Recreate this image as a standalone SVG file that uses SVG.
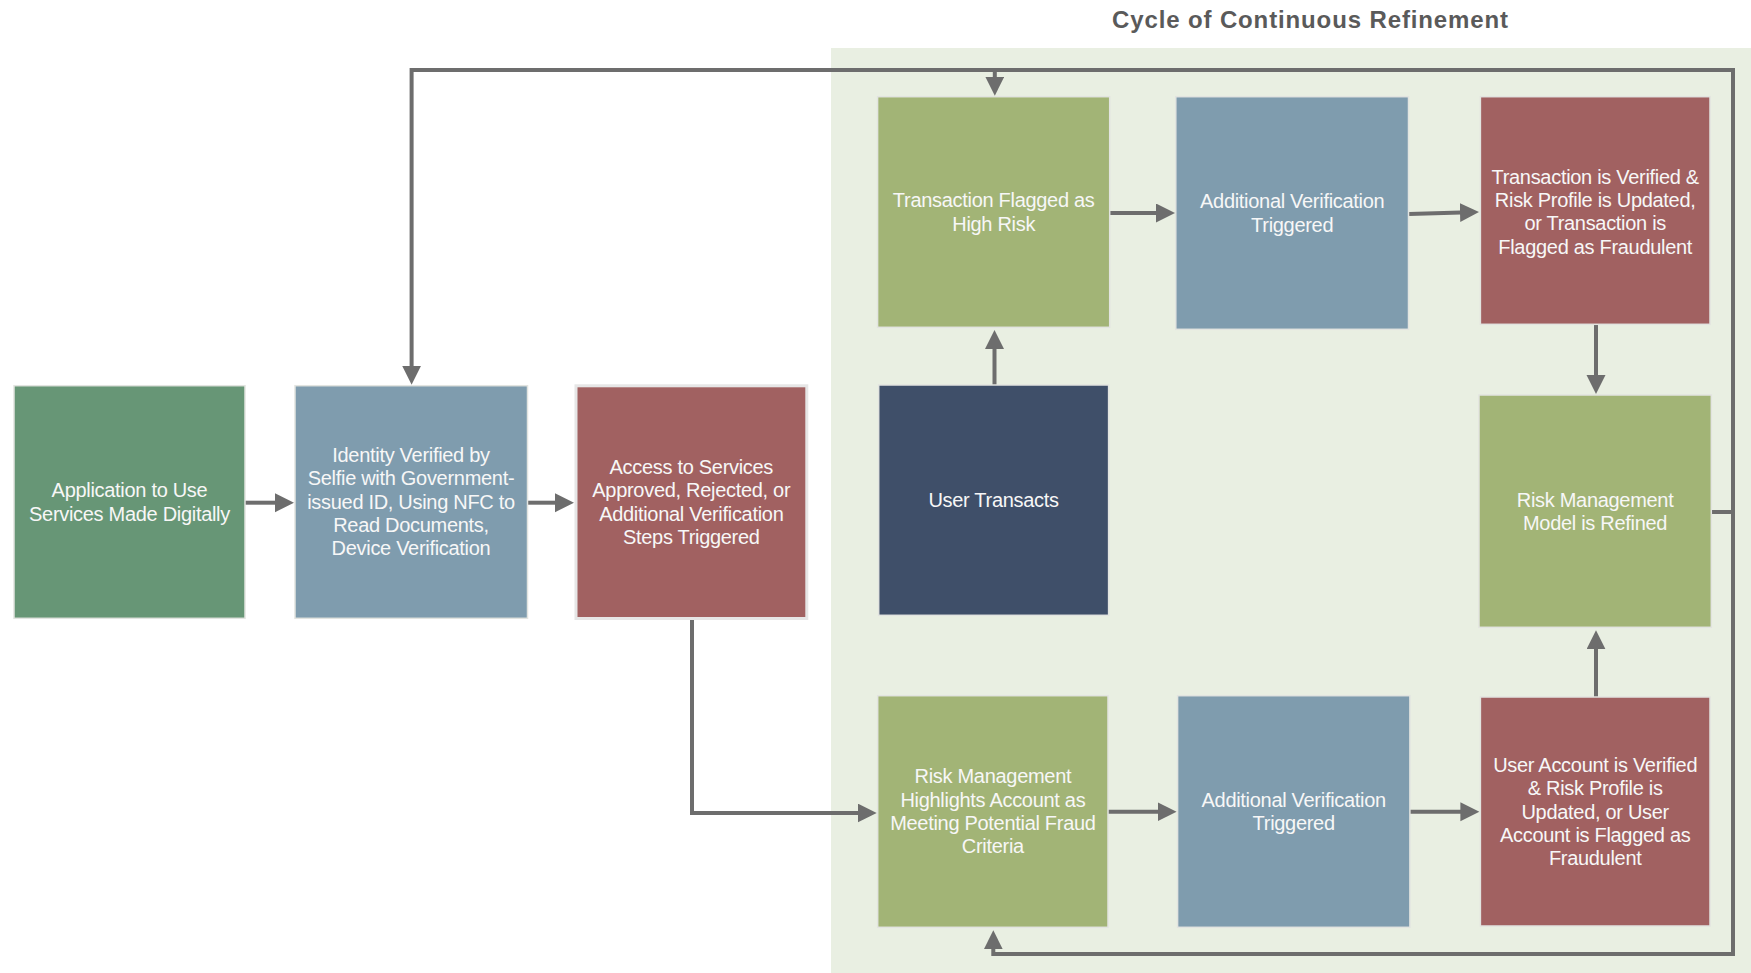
<svg xmlns="http://www.w3.org/2000/svg" width="1751" height="973" viewBox="0 0 1751 973">
<style>
.box{stroke:#E2E4E0;stroke-width:1.5}
.g1{fill:#679676}.bl{fill:#7F9CAE}.rd{fill:#A16161}.ol{fill:#A2B476}.nv{fill:#3F4F69}
.t{font-family:"Liberation Sans",Arial,sans-serif;font-size:20px;fill:#F7F7F7;text-anchor:middle;letter-spacing:-0.3px}
.ttl{font-family:"Liberation Sans",Arial,sans-serif;font-size:24px;font-weight:bold;fill:#5A5A5A;text-anchor:middle}
.c{fill:none;stroke:#6D6D6D;stroke-width:4}
.ca{fill:none;stroke:#6D6D6D;stroke-width:4;marker-end:url(#ah)}
</style>
<defs>
<marker id="ah" markerUnits="userSpaceOnUse" markerWidth="20" markerHeight="20" refX="1" refY="9.5" orient="auto">
<path d="M0,0 L19,9.5 L0,19 z" fill="#6D6D6D"/>
</marker>
</defs>
<rect width="1751" height="973" fill="#FFFFFF"/>
<g id="panel">
<rect x="831" y="48" width="920" height="925" fill="#E9EFE2"/>
<text class="ttl" x="1310" y="28" textLength="396" lengthAdjust="spacing">Cycle of Continuous Refinement</text>
</g>
<g id="connectors">
<path class="ca" d="M245,502.7 H276"/>
<path class="ca" d="M527.5,502.7 H556"/>
<path class="ca" d="M692,619 V813 H858.7"/>
<path class="ca" d="M994.5,385 V348"/>
<path class="ca" d="M1110,213 H1157"/>
<path class="ca" d="M1409,214 L1461,212.5"/>
<path class="ca" d="M1596,325 V376"/>
<path class="ca" d="M1108,811.7 H1158.6"/>
<path class="ca" d="M1410,811.7 H1461.4"/>
<path class="ca" d="M1596,697 V648.3"/>
<path class="c" d="M1711,512 H1733"/>
<path class="ca" d="M1733,70 H411.6 V366.7"/>
<path class="ca" d="M994.8,70 V77.7"/>
<path class="ca" d="M1733,68 V954 H993.3 V948.3"/>
</g>
<g id="n1">
<rect class="box g1" x="14" y="385.7" width="231" height="232.6"/>
<text class="t" x="129.5" y="497.3">Application to Use</text>
<text class="t" x="129.5" y="520.6">Services Made Digitally</text>
</g>
<g id="n2">
<rect class="box bl" x="295" y="385.7" width="232.5" height="232.6"/>
<text class="t" x="411" y="462">Identity Verified by</text>
<text class="t" x="411" y="485.3">Selfie with Government-</text>
<text class="t" x="411" y="508.7">issued ID, Using NFC to</text>
<text class="t" x="411" y="532">Read Documents,</text>
<text class="t" x="411" y="555.3">Device Verification</text>
</g>
<g id="n3">
<rect class="rd" x="576" y="385.8" width="230.8" height="232.7" stroke="#E6E6E6" stroke-width="3"/>
<text class="t" x="691.3" y="474">Access to Services</text>
<text class="t" x="691.3" y="497.3">Approved, Rejected, or</text>
<text class="t" x="691.3" y="520.7">Additional Verification</text>
<text class="t" x="691.3" y="544">Steps Triggered</text>
</g>
<g id="n4">
<rect class="box ol" x="877.6" y="96.7" width="232.1" height="230.6"/>
<text class="t" x="993.7" y="207.3">Transaction Flagged as</text>
<text class="t" x="993.7" y="230.7">High Risk</text>
</g>
<g id="n5">
<rect class="box bl" x="1175.8" y="96.7" width="232.7" height="232.6"/>
<text class="t" x="1292.2" y="208.3">Additional Verification</text>
<text class="t" x="1292.2" y="231.7">Triggered</text>
</g>
<g id="n6">
<rect class="box rd" x="1480.4" y="96.7" width="229.6" height="227.6"/>
<text class="t" x="1595.2" y="183.7">Transaction is Verified &amp;</text>
<text class="t" x="1595.2" y="207">Risk Profile is Updated,</text>
<text class="t" x="1595.2" y="230.3">or Transaction is</text>
<text class="t" x="1595.2" y="253.7">Flagged as Fraudulent</text>
</g>
<g id="n7">
<rect class="box nv" x="878.7" y="385" width="229.9" height="230.3"/>
<text class="t" x="993.6" y="506.5">User Transacts</text>
</g>
<g id="n8">
<rect class="box ol" x="1479" y="395" width="232.3" height="232.3"/>
<text class="t" x="1595.1" y="506.5">Risk Management</text>
<text class="t" x="1595.1" y="529.8">Model is Refined</text>
</g>
<g id="n9">
<rect class="box ol" x="877.7" y="695.7" width="230.3" height="231.6"/>
<text class="t" x="992.9" y="783.3">Risk Management</text>
<text class="t" x="992.9" y="806.7">Highlights Account as</text>
<text class="t" x="992.9" y="830">Meeting Potential Fraud</text>
<text class="t" x="992.9" y="853.3">Criteria</text>
</g>
<g id="n10">
<rect class="box bl" x="1177.6" y="695.7" width="232.3" height="231.6"/>
<text class="t" x="1293.7" y="807">Additional Verification</text>
<text class="t" x="1293.7" y="830.3">Triggered</text>
</g>
<g id="n11">
<rect class="box rd" x="1480.4" y="697" width="229.6" height="229"/>
<text class="t" x="1595.2" y="772">User Account is Verified</text>
<text class="t" x="1595.2" y="795.3">&amp; Risk Profile is</text>
<text class="t" x="1595.2" y="818.7">Updated, or User</text>
<text class="t" x="1595.2" y="842">Account is Flagged as</text>
<text class="t" x="1595.2" y="865.3">Fraudulent</text>
</g>
</svg>
